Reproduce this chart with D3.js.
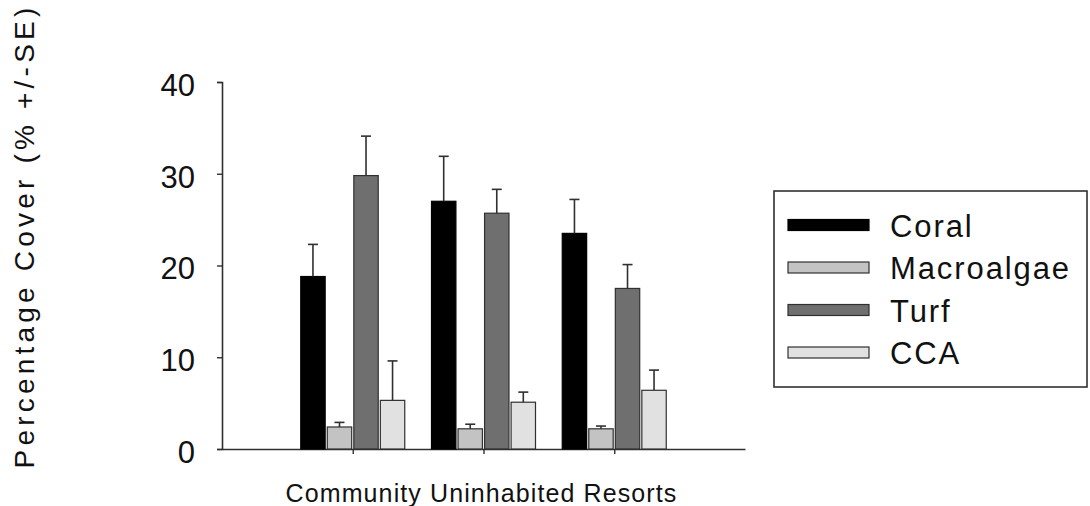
<!DOCTYPE html>
<html>
<head>
<meta charset="utf-8">
<script src="https://cdn.jsdelivr.net/npm/d3@7"></script>
<style>
  html, body { margin: 0; padding: 0; background: #fff; }
  svg { display: block; font-family: "Liberation Sans", Arial, Helvetica, sans-serif; }
</style>
</head>
<body>
<svg id="chart" width="1090" height="506"></svg>
<script>
// Site types along the x axis
const sites = ["Community", "Uninhabited", "Resorts"];

// Benthic cover categories (legend order)
const groups = ["Coral", "Macroalgae", "Turf", "CCA"];

// Mean percentage cover per site, one array per category
const coralMean = [18.8, 27.0, 23.5];
const macroalgaeMean = [2.4, 2.2, 2.2];
const turfMean = [29.8, 25.7, 17.5];
const ccaMean = [5.3, 5.1, 6.4];

// Standard errors for the same cells
const coralSE = [3.5, 4.9, 3.7];
const macroalgaeSE = [0.5, 0.5, 0.3];
const turfSE = [4.3, 2.6, 2.6];
const ccaSE = [4.3, 1.1, 2.2];

// Y axis tick values
const yTicks = [0, 10, 20, 30, 40];

const means = [coralMean, macroalgaeMean, turfMean, ccaMean];
const errors = [coralSE, macroalgaeSE, turfSE, ccaSE];
const fills = ["#000000", "#c3c3c3", "#6f6f6f", "#e1e1e1"];

const rows = [];
groups.forEach((g, gi) => {
  sites.forEach((s, si) => {
    rows.push({ site: s, group: g, gi, mean: means[gi][si], se: errors[gi][si] });
  });
});

const svg = d3.select("#chart");
const ink = "#303030";

const x0 = d3.scalePoint().domain(sites).range([222, 745]).padding(1);
const x1 = d3.scaleBand().domain(groups).range([-52, 52]).paddingInner(0.08);
const y = d3.scaleLinear().domain([0, 40]).range([449, 82]);

// Y axis
const yAxis = svg.append("g")
  .attr("transform", "translate(222,0)")
  .call(d3.axisLeft(y).tickValues(yTicks).tickSize(5).tickPadding(22));
yAxis.select(".domain").attr("stroke", ink).attr("stroke-width", 1.6);
yAxis.selectAll(".tick line").attr("stroke", ink).attr("stroke-width", 1.4);
yAxis.selectAll(".tick text")
  .attr("font-size", 31).attr("fill", "#111")
  .attr("dy", "0.43em").attr("font-family", "Liberation Sans, Arial, sans-serif");

// X axis (labels drawn separately as one line)
const xAxis = svg.append("g")
  .attr("transform", "translate(0,449)")
  .call(d3.axisBottom(x0).tickSize(5).tickSizeOuter(0).tickFormat(""));
xAxis.select(".domain").attr("stroke", ink).attr("stroke-width", 1.6);
xAxis.selectAll(".tick line").attr("stroke", ink).attr("stroke-width", 1.4);

// Bars
const bars = svg.append("g");
bars.selectAll("rect")
  .data(rows)
  .join("rect")
  .attr("x", d => x0(d.site) + x1(d.group))
  .attr("width", x1.bandwidth())
  .attr("y", d => y(d.mean))
  .attr("height", d => y(0) - y(d.mean))
  .attr("fill", d => fills[d.gi])
  .attr("stroke", d => d.gi === 0 ? "#000" : ink)
  .attr("stroke-width", 1.2);

// Upper error bars
const err = svg.append("g").attr("stroke", ink).attr("stroke-width", 1.6);
err.selectAll("line.stem")
  .data(rows)
  .join("line")
  .attr("class", "stem")
  .attr("x1", d => x0(d.site) + x1(d.group) + x1.bandwidth() / 2)
  .attr("x2", d => x0(d.site) + x1(d.group) + x1.bandwidth() / 2)
  .attr("y1", d => y(d.mean))
  .attr("y2", d => y(d.mean + d.se));
err.selectAll("line.cap")
  .data(rows)
  .join("line")
  .attr("class", "cap")
  .attr("x1", d => x0(d.site) + x1(d.group) + x1.bandwidth() / 2 - 5)
  .attr("x2", d => x0(d.site) + x1(d.group) + x1.bandwidth() / 2 + 5)
  .attr("y1", d => y(d.mean + d.se))
  .attr("y2", d => y(d.mean + d.se));

// Site names run together as one centred line under the axis
svg.append("text")
  .attr("x", (x0.range()[0] + x0.range()[1]) / 2 - 2)
  .attr("y", 502)
  .attr("text-anchor", "middle")
  .attr("font-size", 25)
  .attr("letter-spacing", 1.1)
  .attr("fill", "#111")
  .text(sites.join(" "));

// Y axis title
svg.append("text")
  .attr("transform", "translate(34,236) rotate(-90)")
  .attr("text-anchor", "middle")
  .attr("font-size", 28)
  .attr("letter-spacing", 4.2)
  .attr("fill", "#111")
  .text("Percentage Cover (% +/-SE)");

// Legend
const legend = svg.append("g");
legend.append("rect")
  .attr("x", 774).attr("y", 191)
  .attr("width", 313).attr("height", 196)
  .attr("fill", "#fff").attr("stroke", ink).attr("stroke-width", 1.6);
const item = legend.selectAll("g.item")
  .data(groups)
  .join("g")
  .attr("class", "item")
  .attr("transform", (d, i) => `translate(0,${225 + i * 42.5})`);
item.append("rect")
  .attr("x", 788).attr("y", -5.5)
  .attr("width", 81).attr("height", 11)
  .attr("fill", (d, i) => fills[i])
  .attr("stroke", (d, i) => i === 0 ? "#000" : ink)
  .attr("stroke-width", 1.2);
item.append("text")
  .attr("x", 890).attr("y", 11.5)
  .attr("font-size", 31)
  .attr("letter-spacing", 1.9)
  .attr("fill", "#111")
  .text(d => d);
</script>
</body>
</html>
